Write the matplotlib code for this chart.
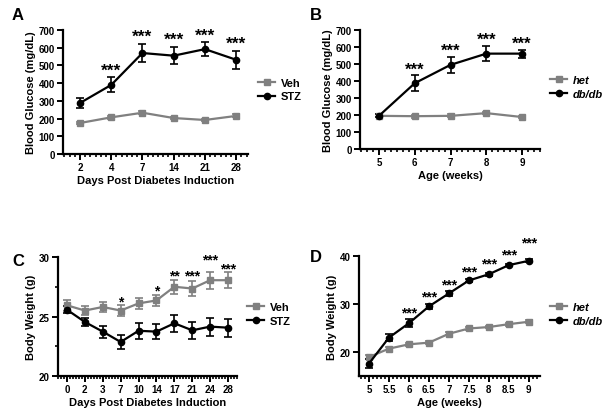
import numpy as np
import matplotlib.pyplot as plt
from matplotlib.ticker import MultipleLocator, FixedLocator

plt.rcParams['font.family'] = ['Liberation Sans', 'DejaVu Sans']
plt.rcParams['font.weight'] = 'bold'

# Panel A - blood glucose STZ
tage_a = ["2", "4", "7", "14", "21", "28"]
veh_a = [175, 207, 233, 203, 192, 215]
veh_a_err = [8, 8, 8, 8, 8, 8]
stz_a = [288, 390, 570, 555, 592, 532]
stz_a_err = [28, 42, 52, 49, 38, 52]
sterne_a = ["", "***", "***", "***", "***", "***"]

# Panel B - blood glucose db/db
alter_b = [5, 6, 7, 8, 9]
het_b = [195, 193, 195, 211, 188]
het_b_err = [8, 8, 8, 8, 8]
db_b = [195, 387, 495, 561, 561]
db_b_err = [8, 46, 48, 46, 24]
sterne_b = ["", "***", "***", "***", "***"]

# Panel C - body weight STZ
tage_c = ["0", "2", "3", "7", "10", "14", "17", "21", "24", "28"]
veh_c = [25.94, 25.5, 25.8, 25.5, 26.1, 26.35, 27.5, 27.35, 28.05, 28.05]
veh_c_err = [0.45, 0.4, 0.45, 0.45, 0.45, 0.45, 0.6, 0.65, 0.7, 0.65]
stz_c = [25.57, 24.54, 23.73, 22.86, 23.8, 23.73, 24.43, 23.84, 24.15, 24.06]
stz_c_err = [0.3, 0.35, 0.5, 0.55, 0.65, 0.6, 0.7, 0.73, 0.75, 0.77]
sterne_c = ["", "", "", "*", "", "*", "**", "***", "***", "***"]

# Panel D - body weight db/db
alter_d = [5, 5.5, 6, 6.5, 7, 7.5, 8, 8.5, 9]
het_d = [18.95, 20.7, 21.6, 21.95, 23.8, 24.9, 25.2, 25.8, 26.3]
het_d_err = [0.5, 0.3, 0.3, 0.3, 0.3, 0.3, 0.3, 0.3, 0.3]
db_d = [17.6, 23.0, 26.0, 29.5, 32.2, 34.9, 36.2, 38.1, 39.0]
db_d_err = [0.9, 0.8, 0.8, 0.6, 0.5, 0.4, 0.3, 0.2, 0.3]
sterne_d = ["", "", "***", "***", "***", "***", "***", "***", "***"]

grau = "#808080"
W, H = 604, 414
fig = plt.figure(figsize=(W/100, H/100), dpi=100)


def achse(l, r, t, b):
    ax = fig.add_axes([l/W, 1 - b/H, (r - l)/W, (b - t)/H])
    for s in ["top", "right"]:
        ax.spines[s].set_visible(False)
    for s in ["left", "bottom"]:
        ax.spines[s].set_linewidth(1.6)
    ax.tick_params(which="major", length=4, width=1.4, labelsize=7, pad=2)
    ax.tick_params(which="minor", length=2.5, width=1.2)
    return ax


def kurve(ax, x, y, e, c, m):
    cont = ax.errorbar(x, y, yerr=e, color=c, marker=m, ms=4.5, lw=1.6,
                       elinewidth=1.2, capsize=3, capthick=1.2)
    return cont.lines[0]


def sterne(ax, x, y, e, st, off, fs, extra=None):
    for i, (xi, yi, ei, s) in enumerate(zip(x, y, e, st)):
        if s:
            o = off + (extra.get(i, 0) if extra else 0)
            ax.annotate(s, (xi, yi + ei), xytext=(0, o), textcoords="offset points",
                        ha="center", va="bottom", fontsize=fs, fontweight="bold")


def legende(ax, linien, namen, kursiv=False):
    leg = ax.legend(linien, namen, loc="center left", bbox_to_anchor=(1.02, 0.52),
                    frameon=False, fontsize=8, handlelength=1.5, handletextpad=0.5,
                    labelspacing=0.35, borderaxespad=0.2)
    for t in leg.get_texts():
        t.set_fontweight("bold")
        if kursiv:
            t.set_fontstyle("italic")


# A
ax = achse(63, 248, 31, 155)
xa = np.arange(len(tage_a))
l1 = kurve(ax, xa, veh_a, veh_a_err, grau, "s")
l2 = kurve(ax, xa, stz_a, stz_a_err, "black", "o")
sterne(ax, xa, stz_a, stz_a_err, sterne_a, 0, 12.5)
ax.set_xlim(-0.545, 5.38)
ax.set_ylim(0, 700)
ax.set_xticks(xa, tage_a)
ax.xaxis.set_minor_locator(MultipleLocator(1/6))
ax.yaxis.set_major_locator(MultipleLocator(100))
ax.set_xlabel("Days Post Diabetes Induction", fontsize=8, fontweight="bold", labelpad=2)
ax.set_ylabel("Blood Glucose (mg/dL)", fontsize=8, fontweight="bold", labelpad=2)
legende(ax, [l1, l2], ["Veh", "STZ"])
fig.text(12/W, 1 - 15/H, "A", fontsize=12, fontweight="bold", va="center")

# B
ax = achse(360, 540, 31, 150)
l1 = kurve(ax, alter_b, het_b, het_b_err, grau, "s")
l2 = kurve(ax, alter_b, db_b, db_b_err, "black", "o")
sterne(ax, alter_b, db_b, db_b_err, sterne_b, -1, 12)
ax.set_xlim(4.47, 9.5)
ax.set_ylim(0, 700)
ax.set_xticks(alter_b)
ax.xaxis.set_minor_locator(MultipleLocator(1/6))
ax.yaxis.set_major_locator(MultipleLocator(100))
ax.set_xlabel("Age (weeks)", fontsize=8, fontweight="bold", labelpad=2)
ax.set_ylabel("Blood Glucose (mg/dL)", fontsize=8, fontweight="bold", labelpad=2)
legende(ax, [l1, l2], ["het", "db/db"], kursiv=True)
fig.text(310/W, 1 - 15/H, "B", fontsize=12, fontweight="bold", va="center")

# C
ax = achse(58, 237, 258, 377)
xc = np.arange(len(tage_c))
l1 = kurve(ax, xc, veh_c, veh_c_err, grau, "s")
l2 = kurve(ax, xc, stz_c, stz_c_err, "black", "o")
sterne(ax, xc, veh_c, veh_c_err, sterne_c, -2, 10, extra={7: 1, 8: 6})
ax.set_xlim(-0.5, 9.5)
ax.set_ylim(20, 30)
ax.set_xticks(xc, tage_c)
ax.xaxis.set_minor_locator(MultipleLocator(1/6))
ax.yaxis.set_major_locator(MultipleLocator(5))
ax.yaxis.set_minor_locator(FixedLocator([22.5, 27.5]))
ax.set_xlabel("Days Post Diabetes Induction", fontsize=8, fontweight="bold", labelpad=2)
ax.set_ylabel("Body Weight (g)", fontsize=8, fontweight="bold", labelpad=2)
legende(ax, [l1, l2], ["Veh", "STZ"])
fig.text(12/W, 1 - 262/H, "C", fontsize=12, fontweight="bold", va="center")

# D
ax = achse(359, 540, 257, 377)
l1 = kurve(ax, alter_d, het_d, het_d_err, grau, "s")
l2 = kurve(ax, alter_d, db_d, db_d_err, "black", "o")
sterne(ax, alter_d, db_d, db_d_err, sterne_d, 0, 10, extra={6: 2, 7: 2, 8: 7})
ax.set_xlim(4.75, 9.28)
ax.set_ylim(15, 40)
ax.set_xticks(alter_d, ["5", "5.5", "6", "6.5", "7", "7.5", "8", "8.5", "9"])
ax.xaxis.set_minor_locator(MultipleLocator(0.1))
ax.set_yticks([20, 30, 40])
ax.set_xlabel("Age (weeks)", fontsize=8, fontweight="bold", labelpad=2)
ax.set_ylabel("Body Weight (g)", fontsize=8, fontweight="bold", labelpad=2)
legende(ax, [l1, l2], ["het", "db/db"], kursiv=True)
fig.text(310/W, 1 - 258/H, "D", fontsize=12, fontweight="bold", va="center")

plt.savefig("out.png", dpi=100)
plt.close()
